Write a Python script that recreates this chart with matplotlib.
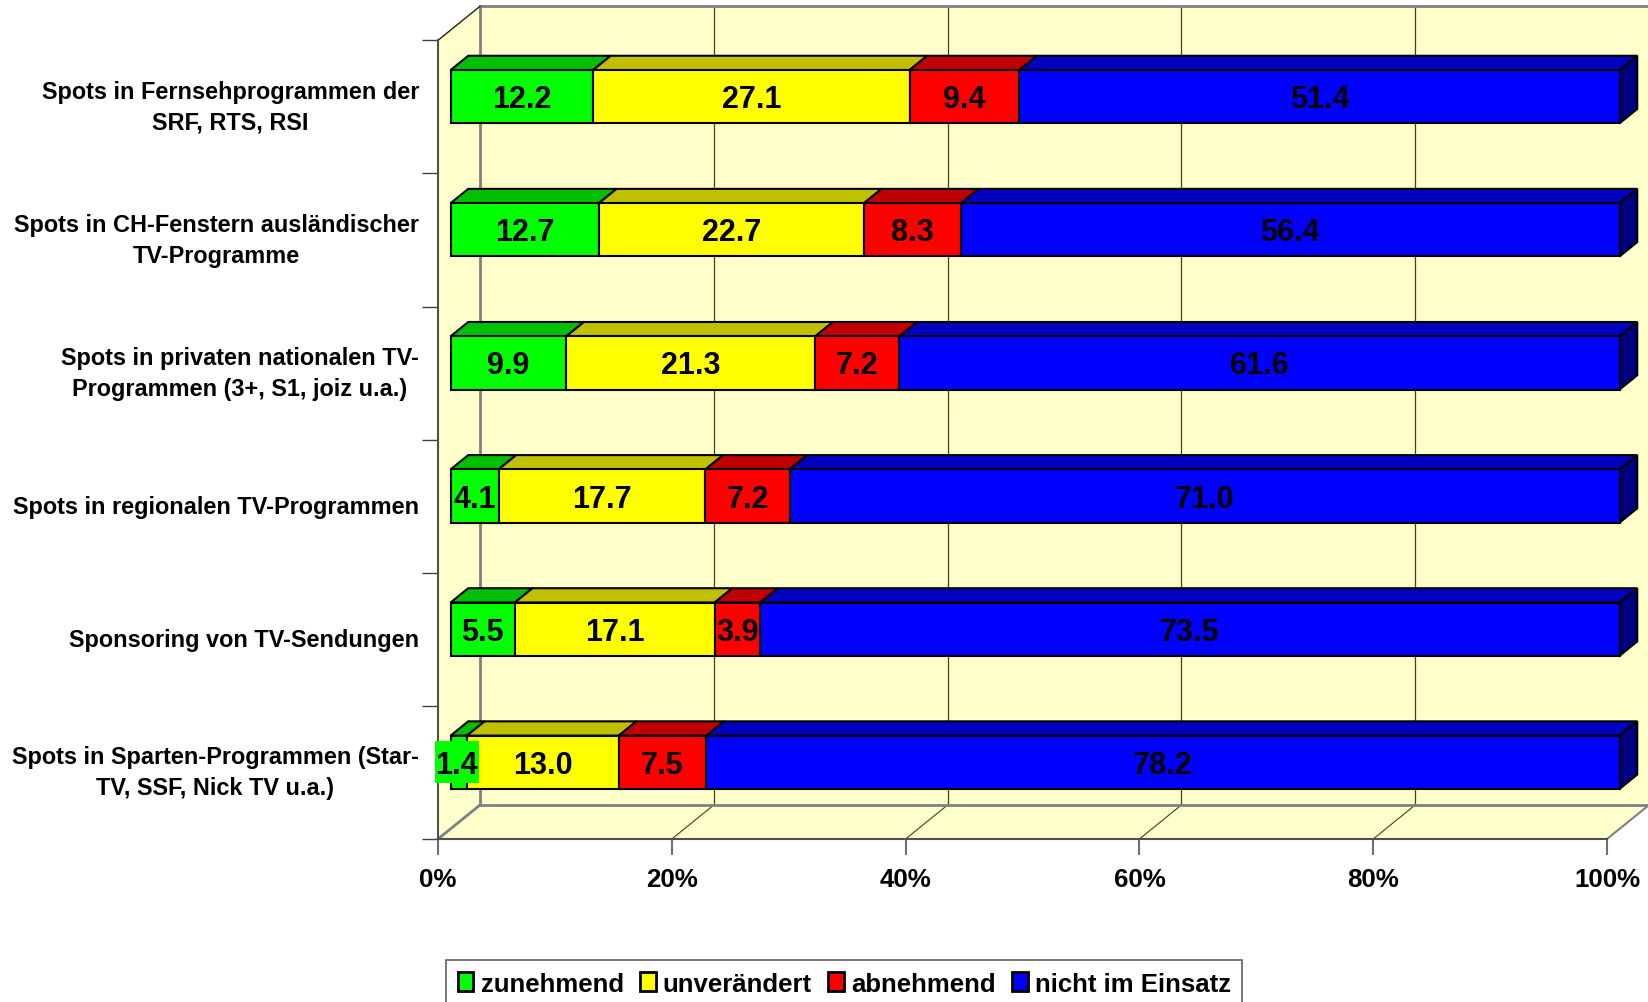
import matplotlib
matplotlib.use("Agg")
import numpy as np
import matplotlib.pyplot as plt
from matplotlib.patches import Patch, Polygon

plt.rcParams['font.family'] = ['Liberation Sans', 'DejaVu Sans']
plt.rcParams['font.weight'] = 'bold'

# data
categories = [
    "Spots in Fernsehprogrammen der\nSRF, RTS, RSI",
    "Spots in CH-Fenstern ausländischer\nTV-Programme",
    "Spots in privaten nationalen TV-\nProgrammen (3+, S1, joiz u.a.)",
    "Spots in regionalen TV-Programmen",
    "Sponsoring von TV-Sendungen",
    "Spots in Sparten-Programmen (Star-\nTV, SSF, Nick TV u.a.)",
]
zunehmend = [12.2, 12.7, 9.9, 4.1, 5.5, 1.4]
unveraendert = [27.1, 22.7, 21.3, 17.7, 17.1, 13.0]
abnehmend = [9.4, 8.3, 7.2, 7.2, 3.9, 7.5]
nicht_im_einsatz = [51.4, 56.4, 61.6, 71.0, 73.5, 78.2]

series_names = ["zunehmend", "unverändert", "abnehmend", "nicht im Einsatz"]
x_ticks = [0, 20, 40, 60, 80, 100]
x_tick_labels = ["0%", "20%", "40%", "60%", "80%", "100%"]

# colours
front_colors = ["#00FF00", "#FFFF00", "#FF0000", "#0000FF"]
top_colors = ["#00C000", "#C0C000", "#C00000", "#0000C0"]
side_color = "#000080"
wall_color = "#FFFFCC"
wall_edge = "#808080"

# depth of the 3D box, in data units
PX_X = 100 / 1169
PX_Y = 1 / 133.1
DX = 42 * PX_X
DY = 34 * PX_Y
BAR_HEIGHT = 0.4
DEPTH_FRONT = 0.3
DEPTH_BACK = 0.72


def proj(x, y, depth):
    return (x + depth * DX, y - depth * DY)


def add_poly(ax, pts, fc, ec, lw, z):
    ax.add_patch(Polygon(pts, closed=True, facecolor=fc, edgecolor=ec,
                         linewidth=lw, zorder=z, clip_on=False,
                         joinstyle='miter'))


fig = plt.figure(figsize=(16.49, 10.03), dpi=100)
ax = fig.add_axes([438 / 1649, 1 - 840 / 1003, (1607 - 438) / 1649, (840 - 41.3) / 1003])
ax.set_xlim(0, 100)
ax.set_ylim(6, 0)
ax.patch.set_visible(False)

# walls and floor
add_poly(ax, [proj(0, 0, 1), proj(100, 0, 1), proj(100, 6, 1), proj(0, 6, 1)], wall_color, 'none', 0, 1)
add_poly(ax, [proj(0, 0, 0), proj(0, 0, 1), proj(0, 6, 1), proj(0, 6, 0)], wall_color, 'none', 0, 1)
add_poly(ax, [proj(0, 6, 0), proj(100, 6, 0), proj(100, 6, 1), proj(0, 6, 1)], wall_color, 'none', 0, 1)

# gridlines on back wall and floor
for t in x_ticks[1:-1]:
    ax.plot(*zip(proj(t, 0, 1), proj(t, 6, 1)), color="#404020", lw=0.9, zorder=2, clip_on=False)
    ax.plot(*zip(proj(t, 6, 0), proj(t, 6, 1)), color="#404020", lw=0.8, zorder=2, clip_on=False)

# wall borders
ax.plot(*zip(proj(0, 0, 1), proj(100, 0, 1)), color=wall_edge, lw=2, zorder=3, clip_on=False)
ax.plot(*zip(proj(100, 0, 1), proj(100, 6, 1)), color=wall_edge, lw=1, zorder=3, clip_on=False)
ax.plot(*zip(proj(0, 0, 1), proj(0, 6, 1)), color=wall_edge, lw=2, zorder=3, clip_on=False)
ax.plot(*zip(proj(0, 6, 1), proj(100, 6, 1)), color=wall_edge, lw=2, zorder=3, clip_on=False)
ax.plot(*zip(proj(0, 6, 0), proj(0, 6, 1)), color=wall_edge, lw=2, zorder=3, clip_on=False)
ax.plot(*zip(proj(100, 6, 0), proj(100, 6, 1)), color=wall_edge, lw=1.5, zorder=3, clip_on=False)
ax.plot(*zip(proj(0, 0, 0), proj(0, 0, 1)), color="#202020", lw=1, zorder=3, clip_on=False)

# bars
rows = np.array([zunehmend, unveraendert, abnehmend, nicht_im_einsatz]).T
for i, row in enumerate(rows):
    y0 = i + 0.5 - BAR_HEIGHT / 2
    y1 = i + 0.5 + BAR_HEIGHT / 2
    edges = np.concatenate([[0], np.cumsum(row) / row.sum() * 100])
    for j in range(4):
        a, b = edges[j], edges[j + 1]
        add_poly(ax, [proj(a, y0, DEPTH_FRONT), proj(a, y0, DEPTH_BACK),
                      proj(b, y0, DEPTH_BACK), proj(b, y0, DEPTH_FRONT)],
                 top_colors[j], 'black', 1.5, 4)
    add_poly(ax, [proj(100, y0, DEPTH_FRONT), proj(100, y0, DEPTH_BACK),
                  proj(100, y1, DEPTH_BACK), proj(100, y1, DEPTH_FRONT)],
             side_color, 'black', 1.5, 4)
    for j in range(4):
        a, b = edges[j], edges[j + 1]
        add_poly(ax, [proj(a, y0, DEPTH_FRONT), proj(b, y0, DEPTH_FRONT),
                      proj(b, y1, DEPTH_FRONT), proj(a, y1, DEPTH_FRONT)],
                 front_colors[j], 'black', 1.5, 5)
        cx, cy = proj((a + b) / 2, i + 0.5, DEPTH_FRONT)
        # label wider than its segment gets a coloured box
        if row[j] < 2:
            cx -= 2 * PX_X
            hw, hh = 22 * PX_X, 21 * PX_Y
            ax.fill([cx - hw, cx + hw, cx + hw, cx - hw],
                    [cy - hh, cy - hh, cy + hh, cy + hh],
                    color=front_colors[j], lw=0, zorder=5.5, clip_on=False)
        ax.text(cx, cy - 1 * PX_Y, f"{row[j]:.1f}", ha='center', va='center_baseline',
                fontsize=22, color='black', zorder=6, clip_on=False)

# axes
for name in ['top', 'right']:
    ax.spines[name].set_visible(False)
ax.spines['left'].set_color("#505050")
ax.spines['left'].set_linewidth(1.5)
ax.spines['bottom'].set_color("#505050")
ax.spines['bottom'].set_linewidth(1.5)
for s in ax.spines.values():
    s.set_zorder(3)

ax.set_xticks(x_ticks, x_tick_labels)
ax.tick_params(axis='x', length=11.5, width=1.5, color="#707070", pad=8.5, labelsize=18.6)
ax.set_yticks(range(7), [""] * 7)
ax.tick_params(axis='y', which='major', length=11.5, width=1, color="#404040")
ax.set_yticks(np.arange(6) + 0.5, categories, minor=True)
ax.tick_params(axis='y', which='minor', length=0, pad=13.7, labelsize=16.9)
for lab in ax.get_yticklabels(minor=True):
    lab.set_multialignment('center')
    lab.set_linespacing(1.45)
    lab.set_verticalalignment('center')

# legend, its lower edge runs off the canvas
handles = [Patch(facecolor=c, edgecolor='black', linewidth=2) for c in front_colors]
leg = fig.legend(handles, series_names, ncol=4, loc='upper left',
                 bbox_to_anchor=(446 / 1649, 1 - 961 / 1003), borderaxespad=0,
                 frameon=True, fancybox=False, edgecolor="#606060", framealpha=1,
                 fontsize=18.5, handlelength=0.62, handleheight=0.72,
                 handletextpad=0.28, columnspacing=0.62, borderpad=0.45)
leg.get_frame().set_linewidth(1.2)

fig.savefig("out.png", dpi=100)
